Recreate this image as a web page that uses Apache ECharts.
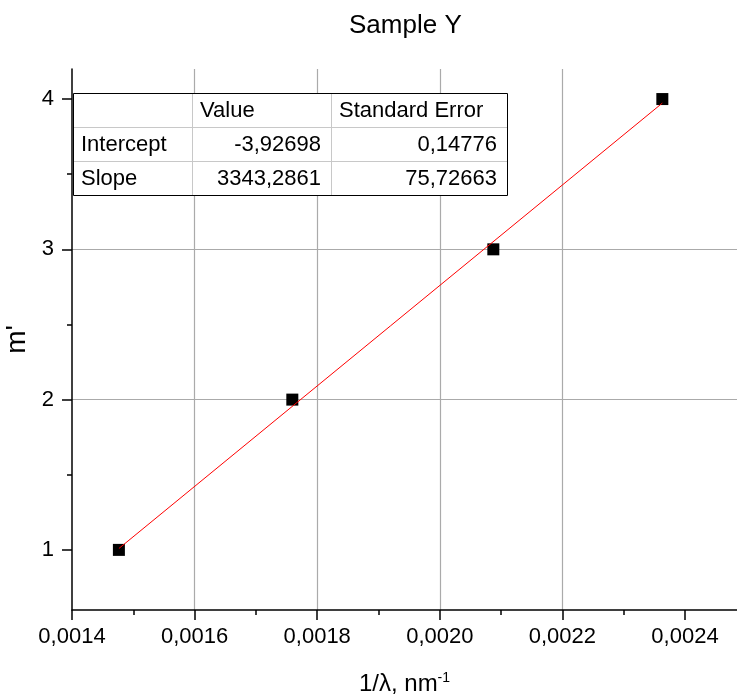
<!DOCTYPE html>
<html>
<head>
<meta charset="utf-8">
<script src="https://cdn.jsdelivr.net/npm/echarts@6/dist/echarts.min.js"></script>
<style>html,body{margin:0;padding:0;background:#fff}#c{width:737px;height:700px}</style>
</head>
<body>
<div id="c"></div>
<script>
// ---- data ----
const xVals = [0.0014765, 0.0017594, 0.0020873, 0.0023630];
const yVals = [1, 2, 3, 4];
const fitX = [0.0014765, 0.0023630];
const fitY = [1.0094, 3.9732];
const xMajorTicks = [0.0014, 0.0016, 0.0018, 0.0020, 0.0022, 0.0024];
const xMinorTicks = [0.0015, 0.0017, 0.0019, 0.0021, 0.0023];
const yMajorTicks = [1, 2, 3, 4];
const yMinorTicks = [1.5, 2.5, 3.5];
const tableHeader = ['', 'Value', 'Standard Error'];
const tableRows = [
  ['Intercept', '-3,92698', '0,14776'],
  ['Slope', '3343,2861', '75,72663']
];
const titleText = 'Sample Y';
const xName = '1/λ, nm';
const yName = "m'";

const FONT = '"Liberation Sans", Arial, sans-serif';
const chart = echarts.init(document.getElementById('c'), null, {renderer: 'canvas'});

const fmt = v => v.toFixed(4).replace('.', ',');

// table graphic
const tLeft = 73, tTop = 93, colW = [119, 139, 176], rowH = 34;
const tW = colW.reduce((a, b) => a + b, 0), tH = rowH * 3;
const tEls = [];
tEls.push({type: 'rect', shape: {x: tLeft, y: tTop, width: tW, height: tH}, style: {fill: '#fff', stroke: null}, z: 100});
let cx = tLeft;
for (let i = 0; i < colW.length - 1; i++) {
  cx += colW[i];
  tEls.push({type: 'line', shape: {x1: cx + 0.5, y1: tTop, x2: cx + 0.5, y2: tTop + tH}, style: {stroke: '#c8c8c8', lineWidth: 1}, z: 101});
}
for (let r = 1; r < 3; r++) {
  const y = tTop + r * rowH + 0.5;
  tEls.push({type: 'line', shape: {x1: tLeft, y1: y, x2: tLeft + tW, y2: y}, style: {stroke: '#c8c8c8', lineWidth: 1}, z: 101});
}
tEls.push({type: 'rect', shape: {x: tLeft + 0.5, y: tTop + 0.5, width: tW, height: tH}, style: {fill: null, stroke: '#000', lineWidth: 1}, z: 102});
const allRows = [tableHeader].concat(tableRows);
allRows.forEach((row, r) => {
  const yc = tTop + r * rowH + rowH / 2 + 1;
  let x0 = tLeft;
  row.forEach((txt, c) => {
    const right = (r > 0 && c > 0);
    tEls.push({
      type: 'text', z: 103,
      style: {
        text: txt, x: right ? x0 + colW[c] - 10 : x0 + 8, y: yc,
        align: right ? 'right' : 'left', verticalAlign: 'middle',
        font: '22px ' + FONT, fill: '#000'
      }
    });
    x0 += colW[c];
  });
});

const option = {
  animation: false,
  backgroundColor: '#fff',
  title: {
    text: titleText, left: 344, top: 8,
    textStyle: {fontFamily: FONT, fontSize: 26, fontWeight: 'normal', color: '#000'}
  },
  grid: {left: 72, right: 0, top: 69, bottom: 90, containLabel: false, outerBoundsMode: 'none'},
  xAxis: [{
    type: 'value', min: 0.0014, max: 0.0024848,
    name: xName + '{sup|-1}',
    nameLocation: 'middle', nameGap: 61,
    nameTextStyle: {fontFamily: FONT, fontSize: 24, color: '#000',
      rich: {sup: {fontFamily: FONT, fontSize: 14, verticalAlign: 'top', padding: [0, 0, 12, 0], color: '#000'}}},
    axisLine: {show: true, onZero: false, lineStyle: {color: '#000', width: 1.5}},
    axisTick: {show: true, length: 10, customValues: xMajorTicks, lineStyle: {color: '#000', width: 1.5}},
    axisLabel: {show: true, customValues: xMajorTicks, margin: 16, formatter: fmt,
      fontFamily: FONT, fontSize: 22, color: '#000'},
    splitLine: {show: true, showMinLine: false, showMaxLine: false, lineStyle: {color: '#aaaaaa', width: 1.2}}
  }, {
    type: 'value', gridIndex: 0, position: 'bottom', min: 0.0014, max: 0.0024848,
    axisLine: {show: false, onZero: false},
    axisTick: {show: true, length: 5, customValues: xMinorTicks, lineStyle: {color: '#000', width: 1.5}},
    axisLabel: {show: false},
    splitLine: {show: false}
  }],
  yAxis: [{
    type: 'value', min: 0.6, max: 4.2,
    name: yName, nameLocation: 'middle', nameGap: 38, nameRotate: 90,
    nameTextStyle: {fontFamily: FONT, fontSize: 28, color: '#000'},
    axisLine: {show: true, onZero: false, lineStyle: {color: '#000', width: 1.5}},
    axisTick: {show: true, length: 10, customValues: yMajorTicks, lineStyle: {color: '#000', width: 1.5}},
    axisLabel: {show: true, customValues: yMajorTicks, margin: 18,
      fontFamily: FONT, fontSize: 22, color: '#000'},
    splitLine: {show: true, showMinLine: false, showMaxLine: false, lineStyle: {color: '#aaaaaa', width: 1.2}}
  }, {
    type: 'value', gridIndex: 0, position: 'left', min: 0.6, max: 4.2,
    axisLine: {show: false, onZero: false},
    axisTick: {show: true, length: 5, customValues: yMinorTicks, lineStyle: {color: '#000', width: 1.5}},
    axisLabel: {show: false},
    splitLine: {show: false}
  }],
  series: [{
    type: 'scatter', xAxisIndex: 0, yAxisIndex: 0,
    data: xVals.map((x, i) => [x, yVals[i]]),
    symbol: 'rect', symbolSize: 12,
    itemStyle: {color: '#000', opacity: 1}, z: 3
  }, {
    type: 'line', xAxisIndex: 0, yAxisIndex: 0,
    data: fitX.map((x, i) => [x, fitY[i]]),
    showSymbol: false, symbol: 'none',
    lineStyle: {color: '#ff0000', width: 1}, z: 4
  }],
  graphic: tEls
};
chart.setOption(option);
</script>
</body>
</html>
